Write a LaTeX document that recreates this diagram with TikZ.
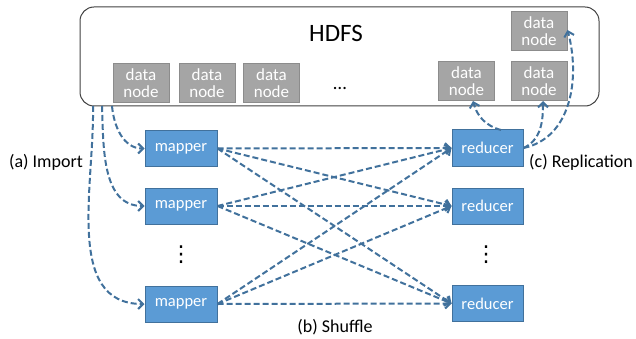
\documentclass[tikz,border=0pt]{standalone}
\usepackage{fontspec}
\setmainfont{Carlito}
\newfontfamily\dejavu{DejaVu Sans}
\usetikzlibrary{arrows.meta}
\definecolor{boxblue}{HTML}{5B9BD5}
\definecolor{boxedge}{HTML}{41719C}
\definecolor{arrowblue}{HTML}{41719C}
\definecolor{dngray}{HTML}{A5A5A5}
\definecolor{dnedge}{HTML}{8C8C8C}
\tikzset{
  dnbox/.style={draw=dnedge, fill=dngray, line width=1pt, minimum width=56pt, minimum height=39pt,
    inner sep=0pt, text=white, align=center, font=\fontsize{17}{17}\selectfont},
  mrbox/.style={draw=boxedge, fill=boxblue, line width=1pt, minimum width=72pt, minimum height=36pt,
    inner sep=0pt, text=white, font=\fontsize{16.5}{18}\selectfont},
  flow/.style={draw=arrowblue, line width=2pt, dash pattern=on 6pt off 3pt,
    -{Straight Barb[length=5pt,width=10pt,line width=2pt]}},
  lbl/.style={inner sep=0pt, font=\fontsize{18}{20}\selectfont},
  vdotsnode/.style={inner sep=0pt, font=\dejavu\fontsize{22}{22}\selectfont},
}
\begin{document}
\begin{tikzpicture}[x=1pt,y=-1pt]
\useasboundingbox (0,0) rectangle (636,339);
% HDFS container
\node[draw=black!75, line width=1pt, rounded corners=14pt, minimum width=519pt, minimum height=99pt, inner sep=0pt] (hdfs) at (339.5,56.5) {};
\node[inner sep=0pt, font=\fontsize{25}{27}\selectfont] (hdfslabel) at (336,33) {HDFS};
% data nodes
\node[dnbox] (dn1) at (141,83.5) {data\\node};
\node[dnbox] (dn2) at (207,83.5) {data\\node};
\node[dnbox] (dn3) at (271.5,83.5) {data\\node};
\node[dnbox] (dn4) at (466.5,81) {data\\node};
\node[dnbox] (dn5) at (539,81) {data\\node};
\node[dnbox] (dn6) at (539,31) {data\\node};
\node[inner sep=0pt, font=\fontsize{19}{21}\selectfont] (dots) at (340,88) {…};
% mappers and reducers
\node[mrbox] (m1) at (181,148.5) {mapper};
\node[mrbox] (m2) at (181,206) {mapper};
\node[mrbox] (m3) at (181,304) {mapper};
\node[mrbox, minimum width=71pt] (r1) at (487.5,148) {reducer};
\node[mrbox, minimum width=71pt] (r2) at (487.5,206) {reducer};
\node[mrbox, minimum width=71pt] (r3) at (487.5,303.5) {reducer};
\node[vdotsnode] (mdots) at (181,255) {⋮};
\node[vdotsnode] (rdots) at (486,255) {⋮};
% labels
\node[lbl] (import) at (46,162) {(a) Import};
\node[lbl, anchor=west] (repl) at (529,162) {(c) Replication};
\node[lbl] (shuffle) at (335,327) {(b) Shuffle};
% import arrows
\coordinate (i1) at (112,106);
\coordinate (i2) at (102,106);
\coordinate (i3) at (93,106);
\draw[flow] (i1) to[out=-85,in=180] (m1.west);
\draw[flow] (i2) to[out=-88,in=180] (m2.west);
\draw[flow] (i3) to[out=-89,in=180] (m3.west);
% shuffle arrows
\foreach \m in {m1,m2,m3}{
  \foreach \r in {r1,r2,r3}{
    \draw[flow] (\m.east) -- (\r.west);
  }
}
% replication arrows
\coordinate (rtop) at (501,130);
\draw[flow] (rtop) to[out=165,in=-75] (dn4.south -| 473,0);
\draw[flow] (r1.east) to[out=25,in=-90] (dn5.south -| 543,0);
\draw[flow] (r1.east) to[out=12,in=-75] (dn6.east |- 0,30);
\end{tikzpicture}
\end{document}
